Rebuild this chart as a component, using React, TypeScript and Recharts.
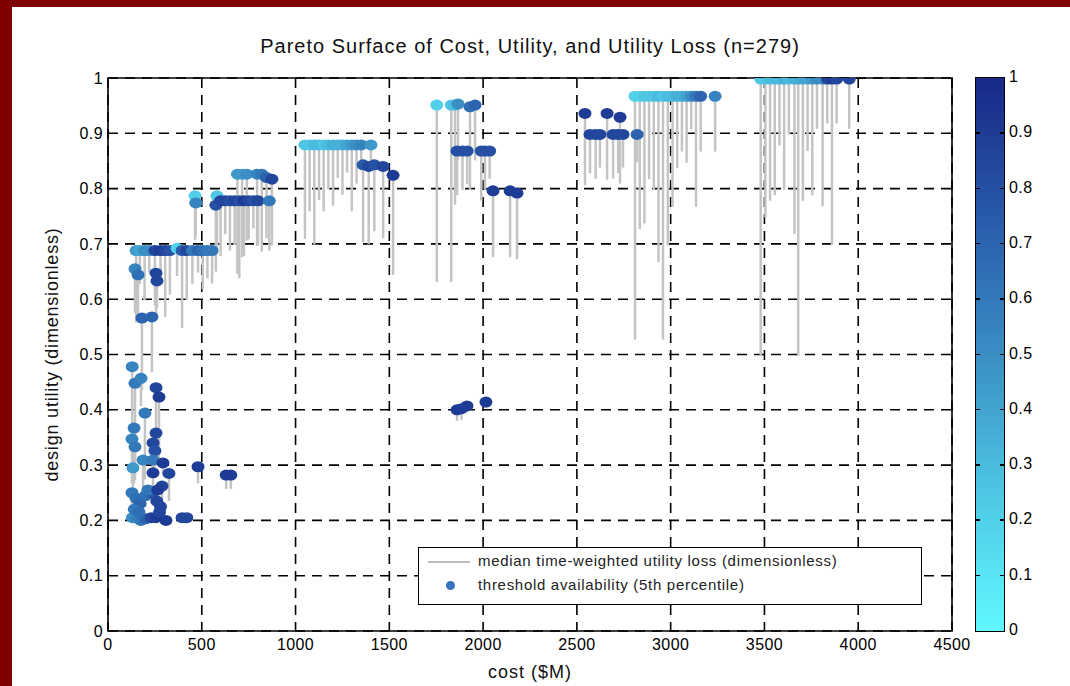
import {
  ScatterChart,
  Scatter,
  XAxis,
  YAxis,
  CartesianGrid,
  ErrorBar,
  ReferenceArea,
} from "recharts";

// cost ($M), design utility, median utility loss (length of grey stem), availability (colour)
const COST = [
  // low-utility cluster
  129, 144, 176, 256, 272, 197, 139, 128, 144, 256, 240, 250, 187, 240, 133, 293, 240, 325, 288, 480,
  630, 655, 128, 150, 170, 200, 235, 260, 280, 130, 150, 175, 200, 230, 255, 275, 309, 395, 420, 140,
  213, 165, 265,
  // 0.57 - 0.65
  144, 160, 256, 261, 181, 234,
  // 0.69 row
  150, 170, 195, 220, 250, 280, 305, 330, 368, 395, 420, 450, 480, 505, 530, 555,
  // 0.77 - 0.83
  464, 468, 581, 575, 600, 625, 650, 675, 700, 725, 750, 775, 800, 860, 690, 715, 740, 795, 820, 845,
  874,
  // 0.88 row
  1050, 1075, 1100, 1125, 1150, 1175, 1200, 1225, 1250, 1275, 1300, 1325, 1350, 1402, 1360, 1390, 1420,
  1467, 1520,
  // 0.95 row and below
  1753, 1830, 1850, 1866, 1930, 1957, 1861, 1890, 1915, 1990, 2010, 2035, 2053, 2144, 2181, 1861, 1885,
  1914, 2015,
  // 0.90 - 0.94
  2543, 2661, 2730, 2570, 2600, 2623, 2693, 2720, 2746, 2821,
  // 0.97 row
  2810, 2835, 2860, 2885, 2910, 2935, 2959, 2985, 3010, 3035, 3060, 3085, 3110, 3135, 3160, 3237,
  // 1.0 row
  3480, 3505, 3530, 3555, 3580, 3605, 3630, 3660, 3680, 3705, 3730, 3755, 3780, 3810, 3835, 3860, 3885,
  3952,
];

const UTIL = [
  0.478, 0.448, 0.457, 0.44, 0.423, 0.394, 0.367, 0.347, 0.333, 0.358, 0.34, 0.326, 0.309, 0.309, 0.295,
  0.304, 0.286, 0.285, 0.262, 0.297, 0.282, 0.282, 0.25, 0.24, 0.23, 0.245, 0.25, 0.235, 0.225, 0.205,
  0.205, 0.2, 0.203, 0.205, 0.205, 0.215, 0.2, 0.205, 0.205, 0.22, 0.255, 0.215, 0.255,
  0.655, 0.644, 0.647, 0.633, 0.566, 0.568,
  0.688, 0.688, 0.688, 0.688, 0.688, 0.688, 0.688, 0.688, 0.692, 0.688, 0.688, 0.688, 0.688, 0.688,
  0.688, 0.688,
  0.787, 0.774, 0.787, 0.77, 0.778, 0.778, 0.778, 0.778, 0.778, 0.778, 0.778, 0.778, 0.778, 0.778, 0.826,
  0.826, 0.826, 0.826, 0.826, 0.82, 0.817,
  0.879, 0.879, 0.879, 0.879, 0.879, 0.879, 0.879, 0.879, 0.879, 0.879, 0.879, 0.879, 0.879, 0.879,
  0.843, 0.84, 0.843, 0.84, 0.824,
  0.951, 0.951, 0.951, 0.953, 0.948, 0.951, 0.868, 0.868, 0.868, 0.868, 0.868, 0.868, 0.796, 0.796,
  0.792, 0.4, 0.402, 0.407, 0.414,
  0.936, 0.936, 0.929, 0.898, 0.898, 0.898, 0.898, 0.898, 0.898, 0.898,
  0.967, 0.967, 0.967, 0.967, 0.967, 0.967, 0.967, 0.967, 0.967, 0.967, 0.967, 0.967, 0.967, 0.967,
  0.967, 0.967,
  0.998, 0.998, 0.998, 0.998, 0.998, 0.998, 0.998, 0.998, 0.998, 0.998, 0.998, 0.998, 0.998, 0.998,
  0.998, 0.998, 0.998, 0.998,
];

const LOSS = [
  0.2, 0.15, 0.05, 0.14, 0.12, 0.12, 0.1, 0.08, 0.06, 0.05, 0.04, 0.03, 0.08, 0.03, 0.06, 0.02, 0.03,
  0.05, 0.04, 0.03, 0.025, 0.025, 0.03, 0.02, 0.02, 0.02, 0.02, 0.02, 0.02, 0.01, 0.01, 0.01, 0.01, 0.01,
  0.01, 0.01, 0, 0, 0, 0.01, 0.02, 0.01, 0.02,
  0.08, 0.07, 0.08, 0.05, 0.13, 0.1,
  0.13, 0.06, 0.09, 0.04, 0.1, 0.06, 0.12, 0.08, 0.05, 0.14, 0.09, 0.06, 0.04, 0.07, 0.05, 0.06,
  0.08, 0.06, 0.1, 0.12, 0.1, 0.06, 0.09, 0.08, 0.14, 0.1, 0.07, 0.05, 0.08, 0.09, 0.18, 0.15, 0.12,
  0.13, 0.14, 0.11, 0.12,
  0.17, 0.12, 0.18, 0.1, 0.12, 0.08, 0.11, 0.06, 0.09, 0.05, 0.12, 0.07, 0.04, 0.03, 0.14, 0.14, 0.12,
  0.13, 0.18,
  0.32, 0.32, 0.18, 0.1, 0.15, 0.1, 0.08, 0.07, 0.06, 0.09, 0.07, 0.05, 0.12, 0.12, 0.12, 0.02, 0.02,
  0.01, 0.01,
  0.13, 0.12, 0.12, 0.07, 0.08, 0.06, 0.08, 0.07, 0.06, 0.05,
  0.44, 0.24, 0.23, 0.15, 0.17, 0.3, 0.44, 0.27, 0.2, 0.13, 0.1, 0.12, 0.06, 0.2, 0.1, 0.1,
  0.5, 0.25, 0.22, 0.21, 0.12, 0.2, 0.1, 0.28, 0.5, 0.22, 0.13, 0.21, 0.09, 0.23, 0.08, 0.3, 0.08, 0.09,
];

const AVAIL = [
  0.55, 0.6, 0.55, 0.85, 0.9, 0.6, 0.6, 0.55, 0.6, 0.85, 0.85, 0.8, 0.55, 0.6, 0.45, 0.9, 0.9, 0.85, 0.85,
  0.9, 0.9, 0.9, 0.6, 0.65, 0.7, 0.65, 0.75, 0.85, 0.85, 0.5, 0.55, 0.6, 0.7, 0.85, 0.9, 0.85, 0.9, 0.85,
  0.85, 0.6, 0.6, 0.65, 0.9,
  0.55, 0.65, 0.85, 0.85, 0.7, 0.7,
  0.45, 0.4, 0.5, 0.5, 0.85, 0.9, 0.85, 0.8, 0.2, 0.75, 0.85, 0.6, 0.7, 0.65, 0.6, 0.6,
  0.2, 0.55, 0.25, 0.8, 0.85, 0.85, 0.8, 0.85, 0.8, 0.9, 0.85, 0.8, 0.85, 0.6, 0.45, 0.45, 0.5, 0.55,
  0.6, 0.7, 0.85,
  0.25, 0.25, 0.3, 0.3, 0.25, 0.3, 0.35, 0.35, 0.35, 0.4, 0.45, 0.5, 0.55, 0.45, 0.75, 0.85, 0.8, 0.85,
  0.9,
  0.2, 0.25, 0.3, 0.5, 0.65, 0.7, 0.8, 0.8, 0.8, 0.8, 0.8, 0.8, 0.9, 0.9, 0.9, 0.9, 0.9, 0.9, 0.9,
  0.9, 0.9, 0.9, 0.85, 0.85, 0.85, 0.85, 0.85, 0.85, 0.7,
  0.2, 0.2, 0.25, 0.25, 0.25, 0.3, 0.25, 0.3, 0.3, 0.35, 0.35, 0.4, 0.5, 0.6, 0.7, 0.55,
  0.25, 0.25, 0.3, 0.3, 0.3, 0.35, 0.3, 0.35, 0.35, 0.4, 0.4, 0.45, 0.5, 0.5, 0.85, 0.9, 0.85, 0.85,
];

const X_TICKS = [0, 500, 1000, 1500, 2000, 2500, 3000, 3500, 4000, 4500];
const Y_TICKS = [0, 0.1, 0.2, 0.3, 0.4, 0.5, 0.6, 0.7, 0.8, 0.9, 1];
const CBAR_TICKS = [0, 0.1, 0.2, 0.3, 0.4, 0.5, 0.6, 0.7, 0.8, 0.9, 1];

// colormap, cyan (0) to dark navy (1)
const CMAP: [number, number[]][] = [
  [0, [96, 248, 255]],
  [0.25, [78, 198, 228]],
  [0.5, [58, 142, 196]],
  [0.75, [40, 90, 170]],
  [1, [24, 40, 135]],
];

function cmap(v: number) {
  for (let i = 1; i < CMAP.length; i++) {
    const [v1, c1] = CMAP[i];
    const [v0, c0] = CMAP[i - 1];
    if (v <= v1) {
      const t = (v - v0) / (v1 - v0);
      const c = c0.map((a, k) => Math.round(a + (c1[k] - a) * t));
      return `rgb(${c[0]},${c[1]},${c[2]})`;
    }
  }
  const c = CMAP[CMAP.length - 1][1];
  return `rgb(${c[0]},${c[1]},${c[2]})`;
}

const FONT = '"Liberation Sans", Arial, Helvetica, sans-serif';
const PLOT = { left: 108, top: 78, right: 952, bottom: 631 };
const CBAR = { left: 975, width: 28 };
const Y_AXIS_W = 40;
const X_AXIS_H = 30;

const data = COST.map((c, i) => ({
  cost: c,
  util: UTIL[i],
  loss: [LOSS[i], 0],
  avail: AVAIL[i],
}));

function Dot(props: any) {
  const { cx, cy, payload } = props;
  if (cx == null || cy == null) return <g />;
  return <ellipse cx={cx} cy={cy} rx={6.5} ry={5.5} fill={cmap(payload.avail)} />;
}

export default function App() {
  const plotH = PLOT.bottom - PLOT.top;
  const gradient = `linear-gradient(to top, ${CMAP.map(([v]) => `${cmap(v)} ${v * 100}%`).join(", ")})`;
  const tickStyle = { fontSize: 16, fill: "#000", fontFamily: FONT, letterSpacing: 0.4 };

  return (
    <div
      style={{
        position: "absolute",
        left: 0,
        top: 0,
        width: 1070,
        height: 686,
        background: "#fff",
        fontFamily: FONT,
        overflow: "hidden",
      }}
    >
      {/* dark red frame */}
      <div style={{ position: "absolute", left: 0, top: 0, width: 1070, height: 7, background: "#7f0000" }} />
      <div style={{ position: "absolute", left: 0, top: 0, width: 12, height: 686, background: "#7f0000" }} />

      <div
        style={{
          position: "absolute",
          left: PLOT.left,
          width: PLOT.right - PLOT.left,
          top: 35,
          textAlign: "center",
          fontSize: 20,
          letterSpacing: 1,
          color: "#111",
        }}
      >
        Pareto Surface of Cost, Utility, and Utility Loss (n=279)
      </div>

      <div style={{ position: "absolute", left: 0, top: 0 }}>
        <ScatterChart
          width={1070}
          height={686}
          margin={{
            top: PLOT.top,
            left: PLOT.left - Y_AXIS_W,
            right: 1070 - PLOT.right,
            bottom: 686 - PLOT.bottom - X_AXIS_H,
          }}
        >
          <CartesianGrid stroke="#000" strokeWidth={1.6} strokeDasharray="10 7" />
          <XAxis
            type="number"
            dataKey="cost"
            domain={[0, 4500]}
            ticks={X_TICKS}
            interval={0}
            height={X_AXIS_H}
            axisLine={false}
            tickLine={false}
            tickMargin={2}
            tick={tickStyle}
            allowDataOverflow
          />
          <YAxis
            type="number"
            dataKey="util"
            domain={[0, 1]}
            ticks={Y_TICKS}
            interval={0}
            width={Y_AXIS_W}
            axisLine={false}
            tickLine={false}
            tickMargin={-1}
            tickFormatter={(v: number) => String(v)}
            tick={tickStyle}
            allowDataOverflow
          />
          <Scatter data={data} shape={<Dot />} isAnimationActive={false}>
            <ErrorBar
              dataKey="loss"
              direction="y"
              width={0}
              stroke="#c4c4c4"
              strokeWidth={2.5}
              isAnimationActive={false}
            />
          </Scatter>
          <ReferenceArea
            x1={0}
            x2={4500}
            y1={0}
            y2={1}
            fill="none"
            fillOpacity={0}
            stroke="#000"
            strokeWidth={1.6}
            ifOverflow="visible"
          />
        </ScatterChart>
      </div>

      {/* axis titles */}
      <div
        style={{
          position: "absolute",
          left: PLOT.left,
          width: PLOT.right - PLOT.left,
          top: 662,
          textAlign: "center",
          fontSize: 18,
          letterSpacing: 1,
          color: "#111",
        }}
      >
        cost ($M)
      </div>
      <div
        style={{
          position: "absolute",
          left: 52 - 170,
          top: (PLOT.top + PLOT.bottom) / 2 - 11,
          width: 340,
          textAlign: "center",
          fontSize: 18,
          letterSpacing: 0.8,
          color: "#111",
          transform: "rotate(-90deg)",
        }}
      >
        design utility (dimensionless)
      </div>

      {/* legend */}
      <div
        style={{
          position: "absolute",
          left: 418,
          top: 547,
          width: 502,
          height: 56,
          background: "#fff",
          border: "1.5px solid #000",
          fontSize: 15,
          letterSpacing: 0.7,
          color: "#222",
        }}
      >
        <div style={{ position: "absolute", left: 9, top: 13, width: 42, height: 2, background: "#bdbdbd" }} />
        <div style={{ position: "absolute", left: 59, top: 4 }}>median time-weighted utility loss (dimensionless)</div>
        <div
          style={{
            position: "absolute",
            left: 27,
            top: 33,
            width: 9,
            height: 9,
            borderRadius: "50%",
            background: "#3a72c0",
          }}
        />
        <div style={{ position: "absolute", left: 59, top: 28 }}>threshold availability (5th percentile)</div>
      </div>

      {/* colorbar */}
      <div
        style={{
          position: "absolute",
          left: CBAR.left,
          top: PLOT.top - 1,
          width: CBAR.width,
          height: plotH,
          background: gradient,
          border: "1.5px solid #000",
        }}
      />
      {CBAR_TICKS.map((t) => {
        const y = PLOT.bottom - t * plotH;
        return (
          <div key={t}>
            {t > 0 && t < 1 && (
              <>
                <div style={{ position: "absolute", left: CBAR.left, top: y - 1, width: 5, height: 1.5, background: "#000" }} />
                <div
                  style={{
                    position: "absolute",
                    left: CBAR.left + CBAR.width - 3,
                    top: y - 1,
                    width: 5,
                    height: 1.5,
                    background: "#000",
                  }}
                />
              </>
            )}
            <div
              style={{
                position: "absolute",
                left: CBAR.left + CBAR.width + 6,
                top: y - 10,
                fontSize: 16,
                letterSpacing: 0.4,
                color: "#000",
                lineHeight: "18px",
              }}
            >
              {String(t)}
            </div>
          </div>
        );
      })}
    </div>
  );
}
